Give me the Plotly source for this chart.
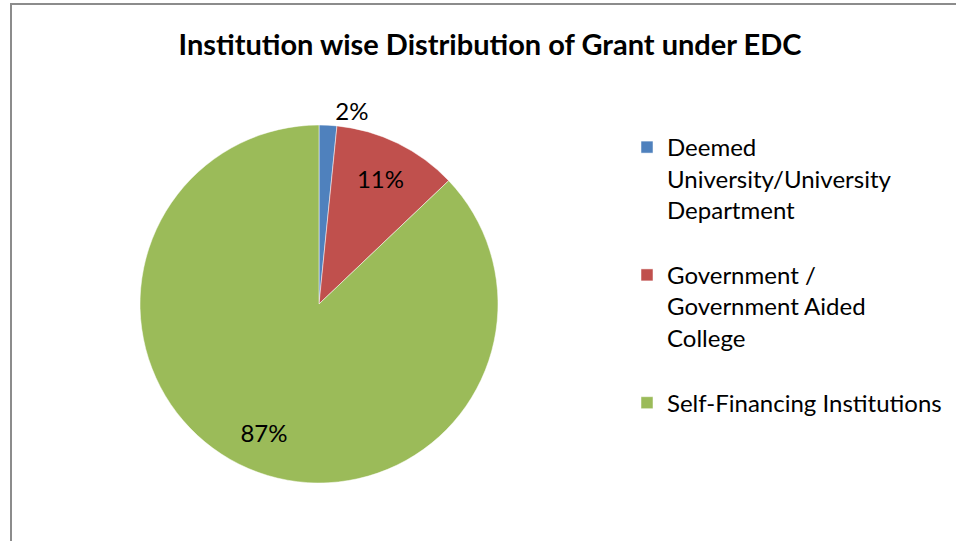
import plotly.graph_objects as go

categories = [
    "Deemed<br>University/University<br>Department<br> ",
    "Government /<br>Government Aided<br>College<br> ",
    "Self-Financing Institutions",
]
values = [1.6, 11.3, 87.1]
colors = ["#4F81BD", "#C0504D", "#9BBB59"]
text_positions = ["outside", "inside", "inside"]

W, H = 956, 541
FONT = "Lato"
DOMAIN = dict(x=[140 / W, 498 / W], y=[1 - 483 / H, 1 - 125 / H])

# coloured slices + legend
pie = go.Pie(
    labels=categories,
    values=values,
    sort=False,
    direction="clockwise",
    rotation=0,
    marker=dict(colors=colors, line=dict(color="white", width=0.5)),
    textinfo="none",
    domain=DOMAIN,
    hoverinfo="label+percent",
)

# same data again, transparent, only to place the percentage labels like Excel
labels_pie = go.Pie(
    labels=categories,
    values=values,
    sort=False,
    direction="clockwise",
    rotation=0,
    hole=0.56,
    marker=dict(colors=["rgba(0,0,0,0)"] * 3, line=dict(width=0)),
    texttemplate="%{percent:.0%}",
    textposition=text_positions,
    insidetextorientation="horizontal",
    textfont=dict(family=FONT, size=24, color="black"),
    outsidetextfont=dict(family=FONT, size=24, color="black"),
    insidetextfont=dict(family=FONT, size=24, color="black"),
    domain=DOMAIN,
    showlegend=False,
    hoverinfo="skip",
)

fig = go.Figure([pie, labels_pie])

fig.update_layout(
    width=W,
    height=H,
    autosize=False,
    margin=dict(l=0, r=0, t=0, b=0),
    paper_bgcolor="white",
    plot_bgcolor="white",
    title=dict(
        text="<b>Institution wise Distribution of Grant under EDC</b>",
        x=490 / W,
        xanchor="center",
        y=1 - 45 / H,
        yanchor="middle",
        font=dict(family=FONT, size=29, color="black"),
    ),
    legend=dict(
        x=627 / W,
        xanchor="left",
        y=1 - 125 / H,
        yanchor="top",
        valign="top",
        font=dict(family=FONT, size=24, color="black"),
        bgcolor="rgba(0,0,0,0)",
        traceorder="normal",
    ),
    showlegend=True,
    shapes=[
        dict(
            type="rect",
            xref="paper",
            yref="paper",
            x0=11 / W,
            x1=1.05,
            y0=-0.05,
            y1=1 - 4 / H,
            line=dict(color="#8C8C8C", width=2),
            fillcolor="rgba(0,0,0,0)",
            layer="below",
        )
    ],
)

fig.write_html(
    "out.html",
    config={"displayModeBar": False},
    post_script="document.body.style.margin='0px';",
)
